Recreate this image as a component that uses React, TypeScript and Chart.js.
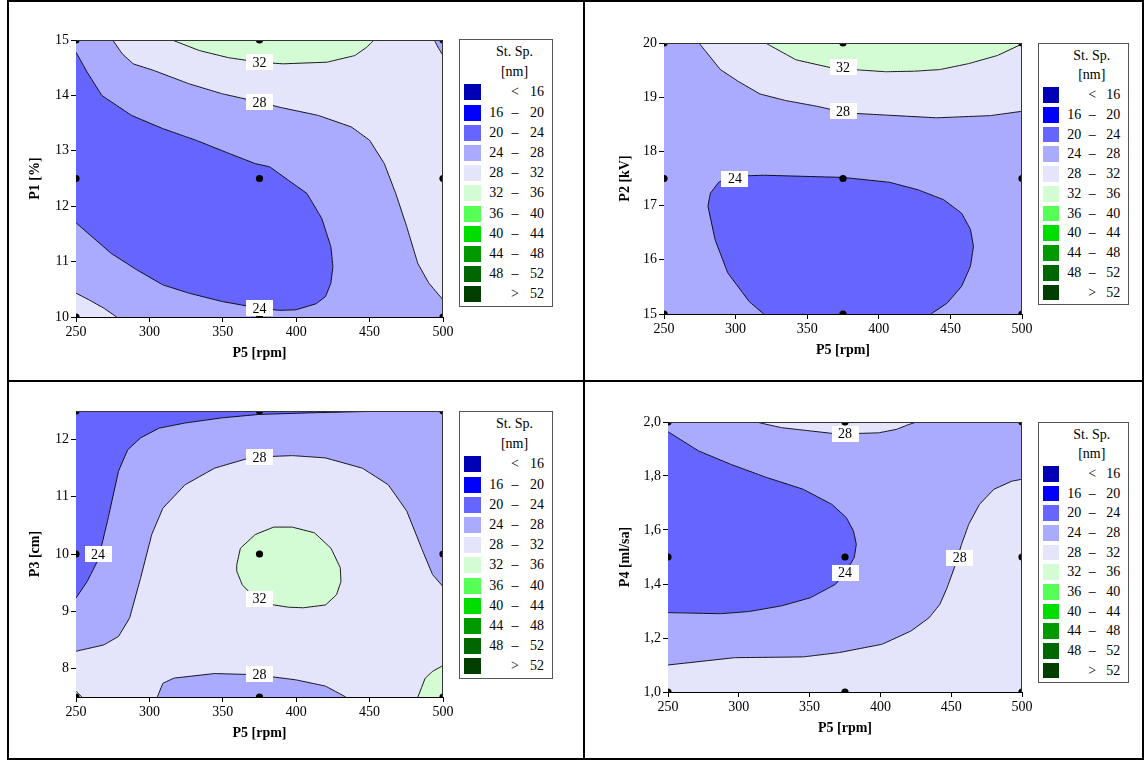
import React, { useEffect, useRef } from "react";
import { Chart, registerables } from "chart.js";

Chart.register(...registerables);

type Pt = [number, number];

// ---------- shared data ----------
const X_RANGE = [250, 500];
const X_TICKS = [250, 300, 350, 400, 450, 500];
const X_TITLE = "P5 [rpm]";
const DESIGN_X = [250, 375, 500];

const LEVEL_COLORS = [
  "#0000B4", "#0000FF", "#6666FF", "#AAAAFF", "#E4E4FA", "#D4FCD4",
  "#55FF55", "#00DD00", "#009900", "#006600", "#003F00",
];
const LEGEND_LEFT = ["", "16", "20", "24", "28", "32", "36", "40", "44", "48", ""];
const LEGEND_MID = ["<", "–", "–", "–", "–", "–", "–", "–", "–", "–", ">"];
const LEGEND_RIGHT = ["16", "20", "24", "28", "32", "36", "40", "44", "48", "52", "52"];
const LEGEND_TITLE = ["St. Sp.", "[nm]"];

// ---------- panel 1 : P1 [%] ----------
const P1_Y_RANGE = [10, 15];
const P1_Y_TICKS = [10, 11, 12, 13, 14, 15];
const P1_Y_LABELS = ["10", "11", "12", "13", "14", "15"];
const P1_DESIGN_Y = [15, 12.5, 10];
const P1_LINE_32: Pt[] = [[315.5, 15], [334, 14.81], [354, 14.68], [375, 14.6], [391, 14.57], [421, 14.6], [440, 14.72], [448, 14.87], [453, 15]];
const P1_LINE_28: Pt[] = [[275, 15], [281.5, 14.75], [289, 14.57], [303, 14.45], [327, 14.21], [349.5, 14.03], [374.7, 13.88], [389.7, 13.78], [414.9, 13.64], [437.6, 13.43], [450, 13.19], [460, 12.77], [467.8, 12.23], [475.3, 11.63], [482.8, 10.97], [490.4, 10.61], [500, 10.31]];
const P1_LINE_24: Pt[] = [[250, 14.78], [257.6, 14.42], [267.6, 14.0], [287.8, 13.64], [309.2, 13.4], [331.8, 13.19], [354.5, 12.95], [372, 12.77], [382, 12.71], [394.6, 12.47], [407.3, 12.23], [417.4, 11.78], [423.6, 11.27], [425, 10.91], [423.6, 10.61], [420, 10.37], [413.6, 10.24], [399.8, 10.13], [388.5, 10.12], [374.7, 10.16], [349.5, 10.28], [327, 10.43], [309.2, 10.58], [291.5, 10.85], [273.9, 11.15], [250, 11.7]];
const P1_LINE_28_LOW: Pt[] = [[250, 10.43], [258.8, 10.31], [268.9, 10.16], [277.7, 10]];
const P1_LINE_28_CORNER: Pt[] = [[494, 15], [497, 14.85], [500, 14.72]];
const P1_LABELS: [number, number, string][] = [[375, 14.6, "32"], [375, 13.88, "28"], [375, 10.16, "24"]];

// ---------- panel 2 : P2 [kV] ----------
const P2_Y_RANGE = [15, 20];
const P2_Y_TICKS = [15, 16, 17, 18, 19, 20];
const P2_Y_LABELS = ["15", "16", "17", "18", "19", "20"];
const P2_DESIGN_Y = [20, 17.5, 15];
const P2_LINE_32: Pt[] = [[320.9, 20], [342.2, 19.69], [367.3, 19.54], [387.4, 19.5], [405, 19.47], [425, 19.48], [442.7, 19.51], [462.8, 19.62], [482.9, 19.77], [499, 19.97], [500, 20]];
const P2_LINE_28: Pt[] = [[274.4, 20], [289.4, 19.51], [302, 19.29], [317, 19.06], [334.7, 18.94], [357.3, 18.83], [377.4, 18.71], [405, 18.67], [440.2, 18.62], [477.9, 18.66], [500, 18.74]];
const P2_LINE_24: Pt[] = [[319.6, 15], [309.5, 15.23], [294.5, 15.76], [285.7, 16.37], [280.7, 16.99], [282.4, 17.23], [288.2, 17.43], [297, 17.54], [319.6, 17.56], [374.9, 17.52], [407.5, 17.43], [427.6, 17.29], [445.2, 17.11], [457.8, 16.86], [464, 16.56], [466.1, 16.25], [464, 15.88], [457.8, 15.51], [447.7, 15.2], [436.4, 15]];
const P2_LABELS: [number, number, string][] = [[375, 19.55, "32"], [375, 18.74, "28"], [299.5, 17.5, "24"]];

// ---------- panel 3 : P3 [cm] ----------
const P3_Y_RANGE = [7.5, 12.5];
const P3_Y_TICKS = [8, 9, 10, 11, 12];
const P3_Y_LABELS = ["8", "9", "10", "11", "12"];
const P3_DESIGN_Y = [12.5, 10, 7.5];
const P3_LINE_24: Pt[] = [[250, 9.23], [257.6, 9.52], [265.1, 9.9], [271.4, 10.57], [279, 11.45], [285.2, 11.82], [294, 12.03], [306.6, 12.2], [324.3, 12.29], [349.4, 12.38], [374.6, 12.44], [412.4, 12.47], [462.7, 12.5]];
const P3_LINE_28: Pt[] = [[250, 8.3], [268.9, 8.41], [279, 8.56], [286.5, 8.88], [294, 9.58], [301.6, 10.34], [309.2, 10.8], [324.3, 11.21], [344.4, 11.5], [369.6, 11.69], [397.3, 11.72], [419.9, 11.68], [445.1, 11.5], [462.7, 11.21], [475.3, 10.75], [485.4, 10.1], [492.9, 9.64], [500, 9.43]];
const P3_LINE_28_LOW: Pt[] = [[305.4, 7.5], [309.2, 7.74], [316.7, 7.83], [344.4, 7.91], [372.1, 7.89], [399.8, 7.8], [420, 7.69], [433.8, 7.5]];
const P3_LINE_32: Pt[] = [[359.5, 9.81], [362, 10.1], [372.1, 10.34], [384.7, 10.47], [397.3, 10.47], [412.4, 10.37], [423.7, 10.1], [430, 9.76], [430.5, 9.52], [427.5, 9.29], [420, 9.11], [404.8, 9.06], [394.7, 9.07], [384.7, 9.11], [372.1, 9.23], [363.3, 9.46], [359.5, 9.7], [359.5, 9.81]];
const P3_LINE_32_RIGHT: Pt[] = [[482.9, 7.5], [487.9, 7.83], [493, 7.95], [500, 8.05]];
const P3_LINE_32_LEFT: Pt[] = [[250, 7.6], [254, 7.5]];
const P3_LABELS: [number, number, string][] = [[265, 10.0, "24"], [375, 11.69, "28"], [375, 9.22, "32"], [375, 7.9, "28"]];

// ---------- panel 4 : P4 [ml/sa] ----------
const P4_Y_RANGE = [1, 2];
const P4_Y_TICKS = [1.0, 1.2, 1.4, 1.6, 1.8, 2.0];
const P4_Y_LABELS = ["1,0", "1,2", "1,4", "1,6", "1,8", "2,0"];
const P4_DESIGN_Y = [2, 1.5, 1];
const P4_LINE_28_TOP: Pt[] = [[312.3, 2], [330.1, 1.979], [350.5, 1.967], [365.7, 1.958], [381, 1.957], [398.8, 1.96], [411.5, 1.973], [419.1, 1.989], [425.5, 2]];
const P4_LINE_24: Pt[] = [[250, 1.964], [271.6, 1.893], [294.5, 1.843], [319.9, 1.794], [345.4, 1.751], [365.7, 1.695], [375.9, 1.646], [381, 1.596], [383, 1.547], [381.5, 1.498], [375.9, 1.448], [368.3, 1.399], [350.5, 1.349], [330.1, 1.319], [307.2, 1.298], [286.9, 1.29], [250, 1.294]];
const P4_LINE_28: Pt[] = [[250, 1.1], [297, 1.127], [345.4, 1.13], [370.8, 1.146], [401.3, 1.177], [421.6, 1.226], [434.4, 1.275], [442, 1.325], [447.1, 1.386], [452.2, 1.46], [457.3, 1.547], [462.4, 1.621], [470, 1.695], [480.2, 1.751], [492.9, 1.781], [500, 1.788]];
const P4_LABELS: [number, number, string][] = [[375, 1.957, "28"], [375, 1.442, "24"], [456, 1.498, "28"]];

// ---------- helpers ----------
const rev = (a: Pt[]) => a.slice().reverse();
const rect = (yr: number[]): Pt[] => [[X_RANGE[0], yr[0]], [X_RANGE[1], yr[0]], [X_RANGE[1], yr[1]], [X_RANGE[0], yr[1]]];

type Region = { pts: Pt[]; level: number };
type PanelSpec = {
  yTitle: string;
  yRange: number[];
  yTicks: number[];
  yLabels: string[];
  designY: number[];
  regions: Region[];
  lines: Pt[][];
  labels: [number, number, string][];
  plot: { l: number; t: number; r: number; b: number };
  yTitleGap: number;
  legend: { l: number; t: number; w: number; h: number };
};

const PANELS: PanelSpec[] = [
  {
    yTitle: "P1 [%]", yRange: P1_Y_RANGE, yTicks: P1_Y_TICKS, yLabels: P1_Y_LABELS, designY: P1_DESIGN_Y,
    regions: [
      { pts: rect(P1_Y_RANGE), level: 4 },
      { pts: [...P1_LINE_28, [500, 10], ...rev(P1_LINE_28_LOW), [250, 15]], level: 3 },
      { pts: P1_LINE_24, level: 2 },
      { pts: P1_LINE_32, level: 5 },
      { pts: [...P1_LINE_28_CORNER, [500, 15]], level: 3 },
    ],
    lines: [P1_LINE_32, P1_LINE_28, P1_LINE_24, P1_LINE_28_LOW, P1_LINE_28_CORNER],
    labels: P1_LABELS,
    plot: { l: 76, t: 40, r: 443, b: 317 }, yTitleGap: 41,
    legend: { l: 459, t: 39, w: 94, h: 268 },
  },
  {
    yTitle: "P2 [kV]", yRange: P2_Y_RANGE, yTicks: P2_Y_TICKS, yLabels: P2_Y_LABELS, designY: P2_DESIGN_Y,
    regions: [
      { pts: rect(P2_Y_RANGE), level: 3 },
      { pts: [...P2_LINE_28, [500, 20]], level: 4 },
      { pts: P2_LINE_32, level: 5 },
      { pts: P2_LINE_24, level: 2 },
    ],
    lines: [P2_LINE_32, P2_LINE_28, P2_LINE_24],
    labels: P2_LABELS,
    plot: { l: 664, t: 43, r: 1022, b: 314 }, yTitleGap: 39,
    legend: { l: 1038, t: 43, w: 91, h: 262 },
  },
  {
    yTitle: "P3 [cm]", yRange: P3_Y_RANGE, yTicks: P3_Y_TICKS, yLabels: P3_Y_LABELS, designY: P3_DESIGN_Y,
    regions: [
      { pts: rect(P3_Y_RANGE), level: 4 },
      { pts: [...P3_LINE_28, [500, 12.5], [250, 12.5]], level: 3 },
      { pts: [...P3_LINE_24, [250, 12.5]], level: 2 },
      { pts: P3_LINE_28_LOW, level: 3 },
      { pts: P3_LINE_32, level: 5 },
      { pts: [...P3_LINE_32_RIGHT, [500, 7.5]], level: 5 },
      { pts: [...P3_LINE_32_LEFT, [250, 7.5]], level: 5 },
    ],
    lines: [P3_LINE_24, P3_LINE_28, P3_LINE_28_LOW, P3_LINE_32, P3_LINE_32_RIGHT, P3_LINE_32_LEFT],
    labels: P3_LABELS,
    plot: { l: 76, t: 411, r: 443, b: 697 }, yTitleGap: 41,
    legend: { l: 459, t: 411, w: 94, h: 268 },
  },
  {
    yTitle: "P4 [ml/sa]", yRange: P4_Y_RANGE, yTicks: P4_Y_TICKS, yLabels: P4_Y_LABELS, designY: P4_DESIGN_Y,
    regions: [
      { pts: rect(P4_Y_RANGE), level: 3 },
      { pts: P4_LINE_28_TOP, level: 4 },
      { pts: P4_LINE_24, level: 2 },
      { pts: [...P4_LINE_28, [500, 1], [250, 1]], level: 4 },
    ],
    lines: [P4_LINE_28_TOP, P4_LINE_24, P4_LINE_28],
    labels: P4_LABELS,
    plot: { l: 668, t: 422, r: 1022, b: 692 }, yTitleGap: 43,
    legend: { l: 1038, t: 422, w: 91, h: 261 },
  },
];

const FONT = '"Liberation Serif", "Times New Roman", serif';

const labelPlugin = {
  id: "contourLabels",
  afterDatasetsDraw(chart: any, _args: any, opts: any) {
    const { ctx } = chart;
    const xs = chart.scales.x;
    const ys = chart.scales.y;
    const area = chart.chartArea;
    ctx.save();
    // frame on top / right
    ctx.strokeStyle = "#333";
    ctx.lineWidth = 1;
    ctx.beginPath();
    ctx.moveTo(Math.round(area.left) + 0.5, Math.round(area.top) + 0.5);
    ctx.lineTo(Math.round(area.right) - 0.5, Math.round(area.top) + 0.5);
    ctx.lineTo(Math.round(area.right) - 0.5, Math.round(area.bottom));
    ctx.stroke();
    ctx.font = `14px ${FONT}`;
    ctx.textAlign = "center";
    ctx.textBaseline = "middle";
    for (const [x, y, t] of opts.items as [number, number, string][]) {
      const px = xs.getPixelForValue(x);
      const py = ys.getPixelForValue(y);
      const w = ctx.measureText(t).width + 13;
      const h = 16;
      ctx.fillStyle = "#fff";
      ctx.fillRect(Math.round(px - w / 2), Math.round(py - h / 2), Math.round(w), h);
      ctx.fillStyle = "#000";
      ctx.fillText(t, px, py + 1);
    }
    ctx.restore();
  },
};

function Legend({ l, t, w, h }: { l: number; t: number; w: number; h: number }) {
  const s = h / 268;
  const sx = w / 94;
  const txt: React.CSSProperties = { position: "absolute", lineHeight: "16px", height: 16, whiteSpace: "nowrap" };
  return (
    <div style={{ position: "absolute", left: l, top: t, width: w, height: h, boxSizing: "border-box", border: "1px solid #555", background: "#fff", fontFamily: FONT, fontSize: 14, color: "#000" }}>
      {LEGEND_TITLE.map((tt, i) => (
        <div key={"t" + i} style={{ ...txt, left: 54.5 * sx - 30, width: 60, textAlign: "center", top: (i === 0 ? 13.4 : 33) * s - 9 }}>{tt}</div>
      ))}
      {LEVEL_COLORS.map((c, i) => {
        const cy = (53.4 + i * 20.2) * s - 1;
        return (
          <React.Fragment key={i}>
            <div style={{ position: "absolute", left: 4 * sx, top: cy - 8, width: 17 * sx, height: 16 * s, background: c }} />
            <div style={{ ...txt, left: 29.3 * sx, top: cy - 8 }}>{LEGEND_LEFT[i]}</div>
            <div style={{ ...txt, left: 55 * sx - 10, width: 20, textAlign: "center", top: cy - 8 }}>{LEGEND_MID[i]}</div>
            <div style={{ ...txt, left: 84 * sx - 30, width: 30, textAlign: "right", top: cy - 8 }}>{LEGEND_RIGHT[i]}</div>
          </React.Fragment>
        );
      })}
    </div>
  );
}

function Panel({ p }: { p: PanelSpec }) {
  const ref = useRef<HTMLCanvasElement | null>(null);
  const cw = p.plot.r - p.plot.l + 90;
  const ch = p.plot.b - p.plot.t + 70;
  useEffect(() => {
    const canvas = ref.current!;
    const datasets: any[] = [];
    let order = 1000;
    for (const r of p.regions) {
      datasets.push({
        data: r.pts.map(([x, y]) => ({ x, y })),
        fill: "shape",
        backgroundColor: LEVEL_COLORS[r.level],
        borderColor: "rgba(0,0,0,0)",
        borderWidth: 0,
        pointRadius: 0,
        tension: 0.01,
        order: order--,
      });
    }
    for (const ln of p.lines) {
      datasets.push({
        data: ln.map(([x, y]) => ({ x, y })),
        fill: false,
        borderColor: "#000",
        borderWidth: 0.9,
        pointRadius: 0,
        tension: 0.01,
        order: order--,
      });
    }
    const pts: { x: number; y: number }[] = [];
    for (const y of p.designY) for (const x of DESIGN_X) pts.push({ x, y });
    datasets.push({
      data: pts,
      showLine: false,
      pointRadius: 3.6,
      pointBackgroundColor: "#000",
      pointBorderWidth: 0,
      clip: 0,
      order: 0,
    });

    const tickFont = { family: FONT, size: 14 };
    const titleFont = { family: FONT, size: 14, weight: "bold" as const, lineHeight: 1 };
    const chart = new Chart(canvas, {
      type: "line",
      data: { datasets },
      plugins: [labelPlugin],
      options: {
        animation: false,
        responsive: false,
        devicePixelRatio: 1,
        events: [],
        layout: { padding: { left: 0, top: 15, right: 20, bottom: 0 } },
        plugins: {
          legend: { display: false },
          tooltip: { enabled: false },
          contourLabels: { items: p.labels },
        } as any,
        scales: {
          x: {
            type: "linear",
            min: X_RANGE[0],
            max: X_RANGE[1],
            afterBuildTicks: (ax: any) => { ax.ticks = X_TICKS.map((v) => ({ value: v })); },
            afterFit: (ax: any) => { ax.height = 55; },
            ticks: { color: "#000", font: tickFont, padding: 2, autoSkip: false, maxRotation: 0, callback: (v: any) => String(v) },
            grid: { display: true, drawOnChartArea: false, drawTicks: true, tickLength: 5, color: "#000" },
            border: { display: true, color: "#000", width: 1 },
            title: { display: true, text: X_TITLE, color: "#000", font: titleFont, padding: { top: 0, bottom: 12 } },
          },
          y: {
            type: "linear",
            min: p.yRange[0],
            max: p.yRange[1],
            afterBuildTicks: (ax: any) => { ax.ticks = p.yTicks.map((v) => ({ value: v })); },
            afterFit: (ax: any) => { ax.width = 70; },
            ticks: { color: "#000", font: tickFont, padding: 2, autoSkip: false, callback: (_v: any, i: number) => p.yLabels[i] },
            grid: { display: true, drawOnChartArea: false, drawTicks: true, tickLength: 5, color: "#000" },
            border: { display: true, color: "#000", width: 1 },
            title: { display: true, text: p.yTitle, color: "#000", font: titleFont, padding: { top: 70 - p.yTitleGap - 7, bottom: 0 } },
          },
        },
      } as any,
    });
    return () => chart.destroy();
  }, []);
  return (
    <>
      <canvas ref={ref} width={cw} height={ch} style={{ position: "absolute", left: p.plot.l - 70, top: p.plot.t - 15, width: cw, height: ch }} />
      <Legend {...p.legend} />
    </>
  );
}

const FRAME_LINES = [
  { left: 7, top: 0, width: 1137, height: 2 },
  { left: 7, top: 758, width: 1137, height: 2 },
  { left: 7, top: 0, width: 2, height: 760 },
  { left: 1142, top: 0, width: 2, height: 760 },
  { left: 583, top: 0, width: 2, height: 760 },
  { left: 7, top: 380, width: 1137, height: 2 },
];

export default function App() {
  return (
    <div style={{ position: "absolute", left: 0, top: 0, width: 1144, height: 760, background: "#fff", overflow: "hidden" }}>
      {PANELS.map((p, i) => <Panel key={i} p={p} />)}
      {FRAME_LINES.map((f, i) => (
        <div key={"f" + i} style={{ position: "absolute", background: "#000", ...f }} />
      ))}
    </div>
  );
}
